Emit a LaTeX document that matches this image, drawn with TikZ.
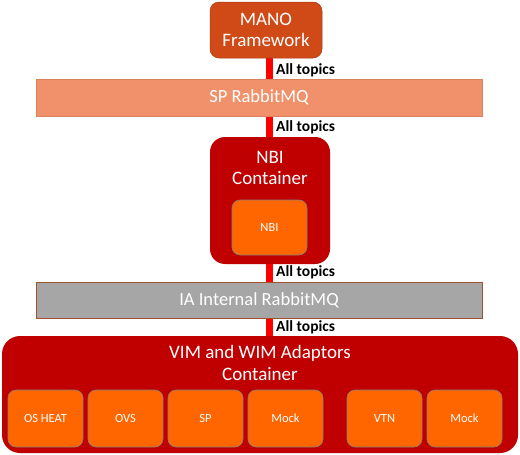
\documentclass[tikz,border=0pt]{standalone}
\usepackage{fontspec}
\setmainfont{Carlito}
\definecolor{mano}{HTML}{D04A18}
\definecolor{sprmq}{HTML}{F0916B}
\definecolor{sprmqb}{HTML}{D9825E}
\definecolor{cont}{HTML}{C00000}
\definecolor{inner}{HTML}{FF6600}
\definecolor{iagray}{HTML}{A6A6A6}
\definecolor{iab}{HTML}{A0522D}
\definecolor{conn}{HTML}{FF0000}
\begin{document}
\begin{tikzpicture}[x=1pt,y=-1pt,
  box/.style={anchor=north west,inner sep=0pt,outer sep=0pt,text=white,align=center},
  bigtxt/.style={font=\fontsize{19}{21.5}\selectfont},
  midtxt/.style={font=\fontsize{18.5}{21}\selectfont},
  smalltxt/.style={font=\fontsize{12.5}{14}\selectfont},
  topic/.style={font=\bfseries\fontsize{15.5}{17}\selectfont,anchor=west,inner sep=0pt,text=black},
  innerbox/.style={box,fill=inner,draw=gray,line width=0.6pt,rounded corners=8pt,minimum width=75pt,minimum height=57pt,smalltxt}]
\useasboundingbox (0,0) rectangle (520,455);
% links
\fill[conn] (266,58) rectangle (273,79);
\fill[conn] (266,116) rectangle (273,138);
\fill[conn] (266,264) rectangle (273,282);
\fill[conn] (266,318) rectangle (273,337);
\node[topic] (t1) at (276,70) {All topics};
\node[topic] (t2) at (276,127) {All topics};
\node[topic] (t3) at (276,272) {All topics};
\node[topic] (t4) at (276,327) {All topics};
% MANO
\node[box,fill=mano,draw=mano!80!black,line width=0.5pt,rounded corners=9pt,minimum width=112pt,minimum height=56pt,bigtxt] (mano) at (210,2) {MANO\\Framework};
% SP RabbitMQ
\node[box,fill=sprmq,draw=sprmqb,line width=0.6pt,minimum width=446pt,minimum height=37pt,midtxt] (sp) at (36,79) {SP RabbitMQ};
% NBI container
\node[box,fill=cont,rounded corners=15pt,minimum width=120pt,minimum height=127pt] (nbic) at (210,137) {};
\node[bigtxt,text=white,align=center] (nbit) at (270,168) {NBI\\Container};
\node[innerbox,minimum width=75pt,minimum height=55pt] (nbi) at (232,200) {NBI};
% IA RabbitMQ
\node[box,fill=iagray,draw=iab,line width=0.6pt,minimum width=446pt,minimum height=36pt,midtxt] (ia) at (36,282) {IA Internal RabbitMQ};
% VIM container
\node[box,fill=cont,rounded corners=18pt,minimum width=516pt,minimum height=117pt] (vimc) at (2,336) {};
\node[bigtxt,text=white,align=center] (vimt) at (260,363) {VIM and WIM Adaptors\\Container};
\node[innerbox] (osheat) at (8,390) {OS HEAT};
\node[innerbox] (ovs) at (88,390) {OVS};
\node[innerbox] (spa) at (168,390) {SP};
\node[innerbox] (mock1) at (248,390) {Mock};
\node[innerbox] (vtn) at (347,390) {VTN};
\node[innerbox] (mock2) at (427,390) {Mock};
\end{tikzpicture}
\end{document}
